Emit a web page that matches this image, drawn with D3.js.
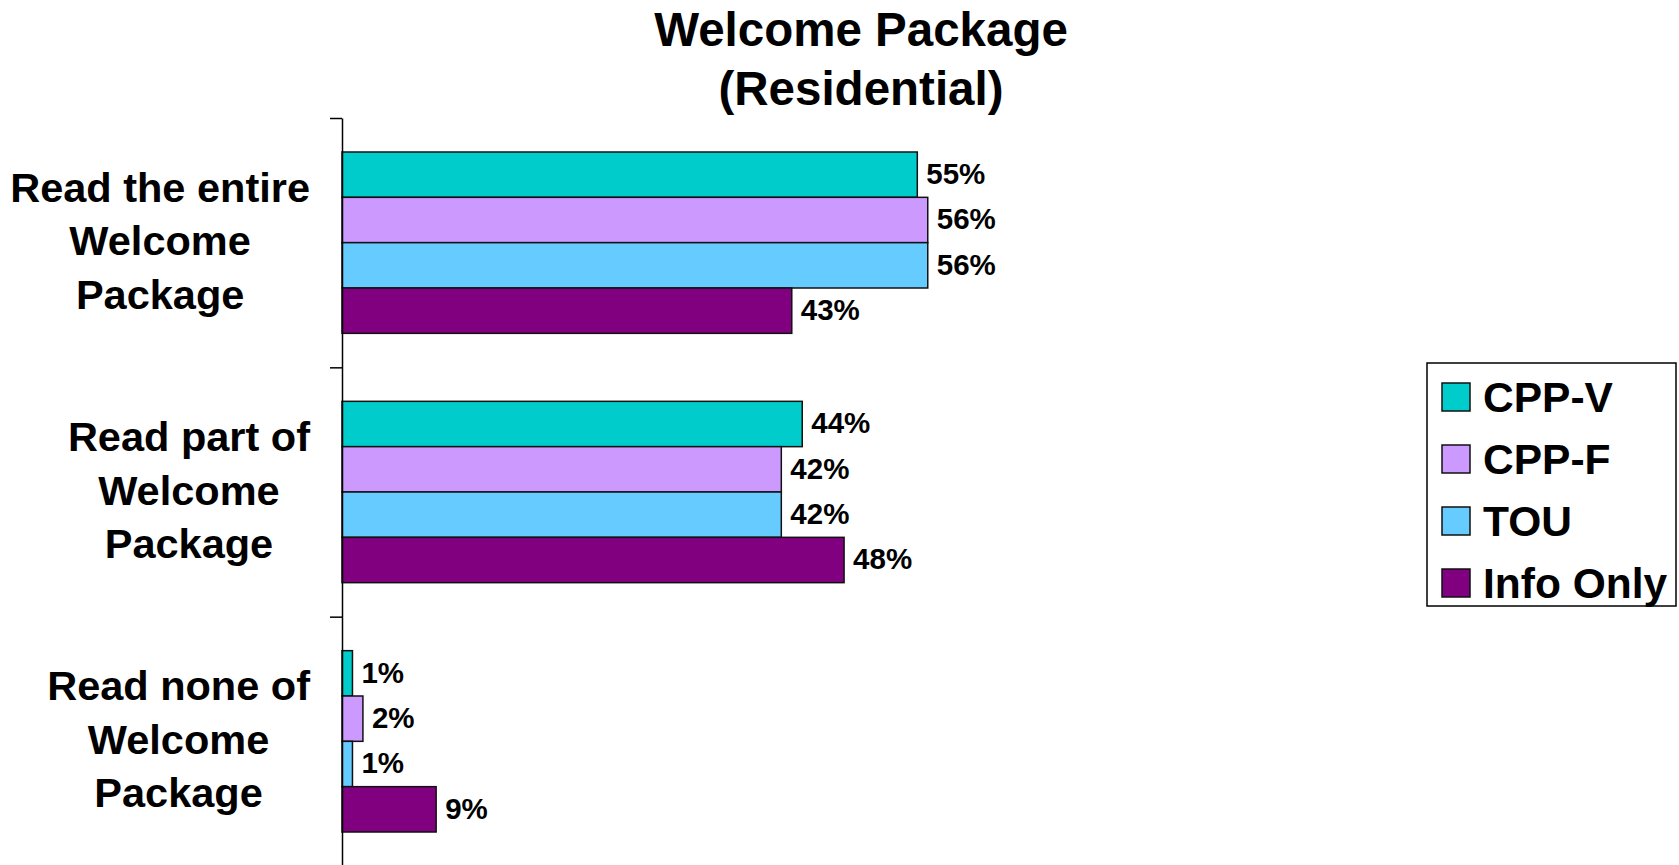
<!DOCTYPE html>
<html>
<head>
<meta charset="utf-8">
<script src="https://cdn.jsdelivr.net/npm/d3@7"></script>
<style>
  html, body { margin: 0; padding: 0; background: #fff; }
  svg { display: block; }
  text { font-family: "Liberation Sans", Arial, Helvetica, sans-serif; font-weight: bold; fill: #000; }
</style>
</head>
<body>
<svg id="chart" width="1679" height="865"></svg>
<script>
// Survey responses: how much of the welcome package was read
const categories = [
  ["Read the entire", "Welcome", "Package"],
  ["Read part of", "Welcome", "Package"],
  ["Read none of", "Welcome", "Package"]
];
const seriesNames = ["CPP-V", "CPP-F", "TOU", "Info Only"];
const cppV     = [55, 44, 1];
const cppF     = [56, 42, 2];
const tou      = [56, 42, 1];
const infoOnly = [43, 48, 9];
const colors   = ["#00CCCC", "#CC99FF", "#66CCFF", "#800080"];
const titleLines = ["Welcome Package", "(Residential)"];

const seriesValues = [cppV, cppF, tou, infoOnly];
const svg = d3.select("#chart");

const axisX = 342, plotTop = 118, plotBottom = 866;
const x = d3.scaleLinear().domain([0, 100]).range([axisX, axisX + 1046]);
const catIdx = categories.map((_, i) => i);
const y = d3.scaleBand().domain(catIdx).range([plotTop, plotBottom]).padding(0);
const ySub = d3.scaleBand().domain(seriesNames)
  .range([0, y.bandwidth()]).paddingInner(0).paddingOuter(0.75);

// Title
svg.append("g").selectAll("text").data(titleLines).join("text")
  .attr("x", 861).attr("y", (d, i) => 29 + i * 59).attr("dy", "0.35em")
  .attr("text-anchor", "middle").style("font-size", "47.5px").text(d => d);

// Bars
const groups = svg.append("g").selectAll("g").data(catIdx).join("g")
  .attr("transform", d => `translate(0,${y(d)})`);

groups.selectAll("rect")
  .data(ci => seriesNames.map((s, si) => ({ s, si, v: seriesValues[si][ci] })))
  .join("rect")
  .attr("x", x(0))
  .attr("y", d => ySub(d.s))
  .attr("width", d => x(d.v) - x(0))
  .attr("height", ySub.bandwidth())
  .attr("fill", d => colors[d.si])
  .attr("stroke", "#111").attr("stroke-width", 1.5);

groups.selectAll("text.val")
  .data(ci => seriesNames.map((s, si) => ({ s, si, v: seriesValues[si][ci] })))
  .join("text").attr("class", "val")
  .attr("x", d => x(d.v) + 9)
  .attr("y", d => ySub(d.s) + ySub.bandwidth() / 2 - 1)
  .attr("dy", "0.35em")
  .style("font-size", "29.5px")
  .text(d => d.v + "%");

// Category axis
const axis = d3.axisLeft(d3.scaleLinear().domain([0, 3]).range([plotTop, plotBottom]))
  .tickValues([0, 1, 2, 3]).tickFormat("").tickSize(12).tickSizeOuter(0);
svg.append("g").attr("transform", `translate(${axisX},0)`).call(axis)
  .call(g => g.selectAll("line, path").attr("stroke", "#000").attr("stroke-width", 1.5));

// Category labels: centred lines, block right-aligned against the axis
const labelRight = 310, lineGap = 53.5;
const lab = svg.append("g").selectAll("g").data(catIdx).join("g");
lab.each(function (ci) {
  const g = d3.select(this);
  const lines = categories[ci];
  const cy = y(ci) + y.bandwidth() / 2 - 2;
  const t = g.selectAll("text").data(lines).join("text")
    .attr("y", (d, i) => cy + (i - 1) * lineGap).attr("dy", "0.35em")
    .attr("text-anchor", "middle").style("font-size", "41.5px").text(d => d);
  let maxW = 0;
  t.each(function () { maxW = Math.max(maxW, this.getComputedTextLength()); });
  t.attr("x", labelRight - maxW / 2);
});

// Legend
const leg = svg.append("g");
leg.append("rect").attr("x", 1427).attr("y", 363).attr("width", 249).attr("height", 243)
  .attr("fill", "#fff").attr("stroke", "#000").attr("stroke-width", 1.5);
const legRow = d3.scalePoint().domain(seriesNames).range([397, 583]);
const items = leg.selectAll("g").data(seriesNames).join("g")
  .attr("transform", d => `translate(0,${legRow(d)})`);
items.append("rect").attr("x", 1442).attr("y", -14).attr("width", 28).attr("height", 28)
  .attr("fill", (d, i) => colors[i]).attr("stroke", "#111").attr("stroke-width", 1.5);
items.append("text").attr("x", 1483).attr("dy", "0.35em").style("font-size", "42.5px").text(d => d);
</script>
</body>
</html>
